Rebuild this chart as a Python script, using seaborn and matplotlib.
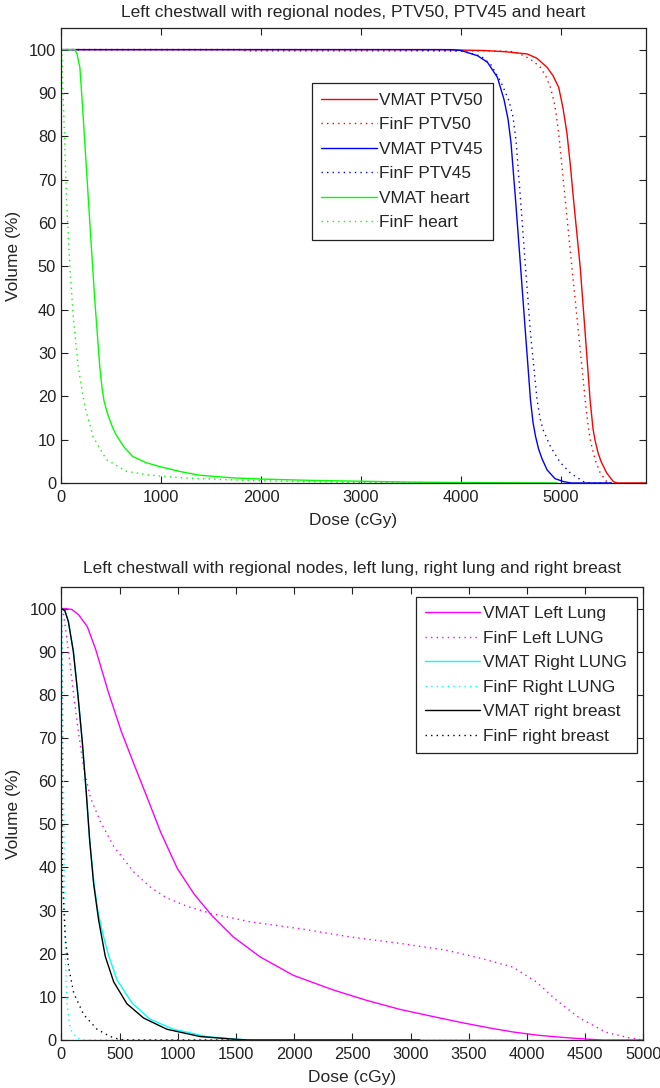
import matplotlib
matplotlib.use("Agg")
import matplotlib.pyplot as plt
import seaborn as sns
import pandas as pd

# ---- top panel: PTV50, PTV45, heart ----
vmat_ptv50_dose = [0, 3800, 4000, 4232, 4450, 4662, 4760, 4861, 4920, 4977, 5020, 5060, 5095, 5126, 5192, 5242, 5291, 5320, 5341, 5370, 5400, 5457, 5524, 5560, 5850]
vmat_ptv50_vol = [100, 100, 99.9, 99.8, 99.5, 99, 98, 95.9, 94, 91.3, 86.5, 80.6, 73, 65.2, 49.8, 34.5, 19.1, 12.5, 9.8, 7.0, 5.0, 2.3, 0.3, 0, 0]

finf_ptv50_dose = [0, 1800, 1850, 4300, 4496, 4580, 4662, 4730, 4794, 4850, 4894, 4940, 4977, 5010, 5043, 5109, 5176, 5242, 5270, 5291, 5320, 5350, 5391, 5457, 5500, 5600]
finf_ptv50_vol = [100, 100, 99.7, 99.7, 99.6, 99.1, 98.2, 97.2, 95.9, 93.8, 91.3, 87, 80.6, 73, 65.2, 49.8, 34.5, 19.1, 13.5, 10.2, 7.2, 4.8, 2.4, 0.3, 0, 0]

vmat_ptv45_dose = [0, 3900, 4000, 4165, 4264, 4364, 4430, 4470, 4500, 4546, 4596, 4645, 4695, 4720, 4745, 4775, 4810, 4861, 4940, 5027, 5100, 5500]
vmat_ptv45_vol = [100, 100, 99.8, 98.6, 97.1, 93.6, 88.5, 84, 78.5, 65.2, 49.8, 34.5, 19.1, 14, 10.8, 7.9, 5.6, 3.0, 1, 0.3, 0, 0]

finf_ptv45_dose = [0, 3300, 4000, 4200, 4300, 4400, 4480, 4520, 4550, 4596, 4645, 4695, 4761, 4790, 4820, 4894, 4990, 5093, 5226, 5300, 5500]
finf_ptv45_vol = [100, 100, 99.7, 98.5, 96.5, 92.5, 88.2, 84.5, 79, 65.2, 49.8, 34.5, 19.1, 15.0, 12.3, 8.4, 4.8, 2.3, 0.3, 0, 0]

vmat_heart_dose = [0, 139, 160, 189, 216, 262, 295, 338, 388, 410, 430, 460, 487, 520, 554, 630, 719, 850, 984, 1200, 1382, 1700, 2000, 2500, 3000, 3500, 4000, 4960]
vmat_heart_vol = [100, 100, 99, 95.9, 86.7, 69.8, 57.6, 42.2, 26.8, 22.0, 19.0, 16.4, 14.6, 12.6, 11.0, 8.3, 6.1, 4.7, 3.8, 2.6, 1.8, 1.2, 0.9, 0.6, 0.4, 0.2, 0.1, 0]

finf_heart_dose = [0, 7, 23, 40, 56, 89, 123, 172, 239, 321, 454, 653, 885, 1200, 1600, 2000, 2500, 3000, 4000]
finf_heart_vol = [100, 100, 88.2, 76.7, 65.2, 49.8, 38.3, 26.8, 17.6, 10.7, 5.4, 2.7, 1.8, 1.2, 0.8, 0.5, 0.3, 0.1, 0]

# ---- bottom panel: lungs and right breast ----
vmat_llung_dose = [0, 30, 90, 150, 223, 295, 405, 515, 630, 740, 854, 997, 1141, 1291, 1477, 1706, 1992, 2336, 2622, 2909, 3200, 3455, 3700, 3883, 4100, 4310, 4538, 4650, 5000]
vmat_llung_vol = [100, 100, 99.8, 98.5, 95.8, 90.5, 80.5, 71.5, 63.5, 56, 48.1, 39.7, 33.8, 28.9, 23.9, 19.3, 15.0, 11.6, 9.2, 7.1, 5.4, 3.95, 2.7, 1.85, 1.1, 0.6, 0.17, 0, 0]

finf_llung_dose = [0, 20, 47, 80, 110, 146, 190, 249, 334, 449, 620, 761, 900, 1078, 1291, 1620, 2050, 2479, 2909, 3310, 3594, 3879, 4079, 4250, 4451, 4679, 4880, 5000]
finf_llung_vol = [100, 98.5, 93, 86, 79, 71.5, 63.3, 56.2, 50.7, 44.9, 39, 35.5, 33, 31, 29.3, 27.4, 25.8, 23.9, 22.4, 20.8, 19, 16.9, 13.5, 9.3, 5.1, 1.8, 0.5, 0]

vmat_rlung_dose = [0, 30, 60, 103, 142, 180, 214, 243, 277, 310, 340, 375, 406, 477, 606, 763, 963, 1249, 1500, 1650, 3900]
vmat_rlung_vol = [100, 99.5, 97, 90, 80, 69, 57.3, 46.3, 37, 30.5, 26.5, 22.6, 19.6, 14, 8.6, 4.8, 2.5, 0.8, 0.2, 0, 0]

finf_rlung_dose = [0, 5, 11, 20, 26, 34, 49, 77, 134, 200, 3900]
finf_rlung_vol = [100, 95, 80.9, 53, 36, 19.4, 8.4, 2.5, 0.4, 0, 0]

vmat_rbreast_dose = [0, 30, 60, 103, 142, 180, 214, 243, 277, 320, 377, 449, 563, 706, 906, 1192, 1478, 1600, 3080]
vmat_rbreast_vol = [100, 99.5, 97, 90, 80, 69, 57.3, 46.3, 36.2, 27.8, 19.4, 13.5, 8.4, 5.1, 2.5, 0.8, 0.2, 0, 0]

finf_rbreast_dose = [0, 6, 11, 34, 63, 106, 191, 306, 420, 506, 600, 1500]
finf_rbreast_vol = [100, 50, 36, 23.6, 16.8, 10.9, 5.9, 2.5, 0.8, 0.1, 0, 0]

top_curves = [
    ("VMAT PTV50", vmat_ptv50_dose, vmat_ptv50_vol, "#ff0000", "-"),
    ("FinF PTV50", finf_ptv50_dose, finf_ptv50_vol, "#ff0000", ":"),
    ("VMAT PTV45", vmat_ptv45_dose, vmat_ptv45_vol, "#0000ff", "-"),
    ("FinF PTV45", finf_ptv45_dose, finf_ptv45_vol, "#0000ff", ":"),
    ("VMAT heart", vmat_heart_dose, vmat_heart_vol, "#00ff00", "-"),
    ("FinF heart", finf_heart_dose, finf_heart_vol, "#00ff00", ":"),
]
bottom_curves = [
    ("VMAT Left Lung", vmat_llung_dose, vmat_llung_vol, "#ff00ff", "-"),
    ("FinF Left LUNG", finf_llung_dose, finf_llung_vol, "#ff00ff", ":"),
    ("VMAT Right LUNG", vmat_rlung_dose, vmat_rlung_vol, "#00ffff", "-"),
    ("FinF Right LUNG", finf_rlung_dose, finf_rlung_vol, "#00ffff", ":"),
    ("VMAT right breast", vmat_rbreast_dose, vmat_rbreast_vol, "#000000", "-"),
    ("FinF right breast", finf_rbreast_dose, finf_rbreast_vol, "#000000", ":"),
]

sns.set_style("ticks")
plt.rcParams["font.family"] = ["Liberation Sans", "DejaVu Sans"]
plt.rcParams["xtick.direction"] = "in"
plt.rcParams["ytick.direction"] = "in"
plt.rcParams["xtick.top"] = True
plt.rcParams["ytick.right"] = True
plt.rcParams["axes.edgecolor"] = "#222222"
plt.rcParams["xtick.color"] = "#222222"
plt.rcParams["ytick.color"] = "#222222"

fig = plt.figure(figsize=(6.6, 10.88), dpi=100)
ax1 = fig.add_axes([0.0924, 0.5561, 0.8864, 0.4182])
ax2 = fig.add_axes([0.0930, 0.0441, 0.8818, 0.4164])


def draw(ax, curves):
    for name, dose, vol, col, ls in curves:
        df = pd.DataFrame({"dose": dose, "vol": vol})
        style = "-" if ls == "-" else (0, (1, 3))
        sns.lineplot(data=df, x="dose", y="vol", ax=ax, color=col,
                     linestyle=style, linewidth=1.0, label=name,
                     estimator=None, sort=False)


draw(ax1, top_curves)
draw(ax2, bottom_curves)

ax1.set_xlim(0, 5850)
ax1.set_ylim(0, 105)
ax1.set_xticks([0, 1000, 2000, 3000, 4000, 5000])
ax1.set_yticks(range(0, 101, 10))
ax1.set_title("Left chestwall with regional nodes, PTV50, PTV45 and heart", fontsize=12.5, pad=8)

ax2.set_xlim(0, 5000)
ax2.set_ylim(0, 105)
ax2.set_xticks(range(0, 5001, 500))
ax2.set_yticks(range(0, 101, 10))
ax2.set_title("Left chestwall with regional nodes, left lung, right lung and right breast", fontsize=12.5, pad=10)

for ax in (ax1, ax2):
    ax.set_xlabel("Dose (cGy)", fontsize=12.5, labelpad=6)
    ax.set_ylabel("Volume (%)", fontsize=12.5, labelpad=6)
    ax.tick_params(labelsize=11.8, length=5, width=0.8)
    ax.tick_params(axis="x", pad=5)
    ax.tick_params(axis="y", pad=3.5)
    for s in ax.spines.values():
        s.set_linewidth(0.9)

leg_kw = dict(fontsize=12.4, frameon=True, fancybox=False, edgecolor="#222222",
              framealpha=1, handlelength=3.2, handletextpad=0.17,
              borderpad=0.55, labelspacing=0.55, borderaxespad=0)

leg1 = ax1.legend(loc="upper left", bbox_to_anchor=(0.429, 0.879), **leg_kw)
leg1.get_frame().set_linewidth(0.9)

leg2 = ax2.legend(loc="upper right", bbox_to_anchor=(0.9885, 0.9786), **leg_kw)
leg2.get_frame().set_linewidth(0.9)

fig.savefig("out.png", dpi=100)
